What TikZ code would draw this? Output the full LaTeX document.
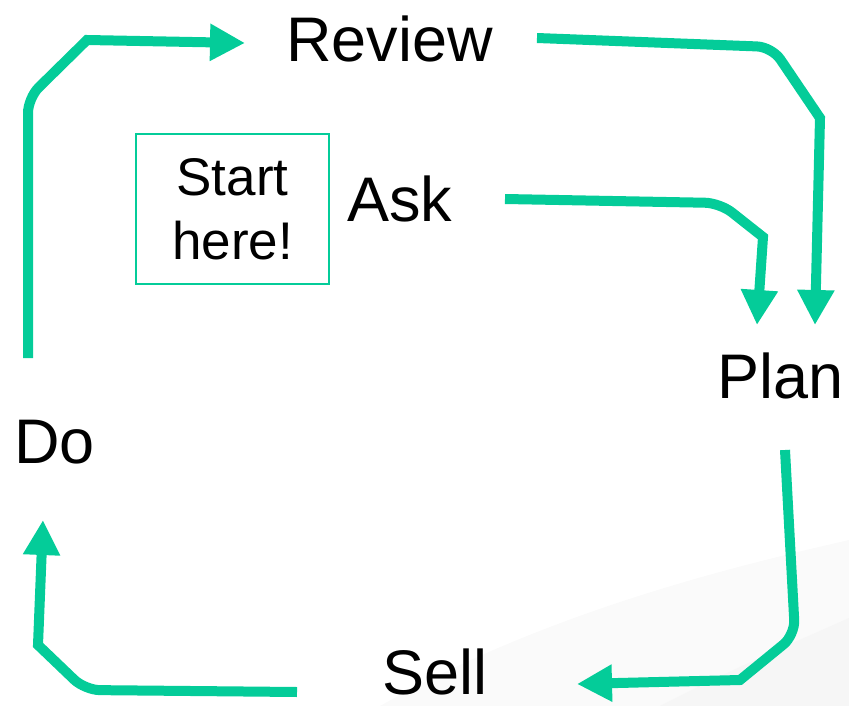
\documentclass[tikz,border=0pt]{standalone}
\usepackage{fontspec}
\setmainfont{Liberation Sans}
\usetikzlibrary{arrows.meta,positioning}
\definecolor{cyclegreen}{RGB}{4,204,153}

\begin{document}
\begin{tikzpicture}[x=1pt, y=-1pt,
                    >={Triangle[length=35pt,width=35pt]},
                    word/.style={inner sep=0pt, anchor=base west, text depth=0pt, font=\fontsize{63}{74}\selectfont},
                    startbox/.style={draw=cyclegreen, line width=2.5pt, align=center, minimum width=193pt, minimum height=150pt, inner sep=0pt, font=\fontsize{53}{64}\selectfont},
                    flow/.style={draw=cyclegreen, line width=10pt, ->}]
                   \useasboundingbox (0,0) rectangle (849,706);

                   % faint background swoosh
                   \fill[gray!4] (380,706) .. controls (550,610) and (740,565) .. (849,540) -- (849,706) -- cycle;
                   \fill[gray!7] (660,706) .. controls (740,665) and (800,640) .. (849,618) -- (849,706) -- cycle;

                   \node [word] (review) at (286,62)  {Review};
                   \node [word] (ask)    at (347,221) {Ask};
                   \node [word] (plan)   at (717,398) {Plan};
                   \node [word] (do)     at (14,463)  {Do};
                   \node [word] (sell)   at (382,694) {Sell};
                   \node [startbox] (start) at (232.5,209) {Start\\here!};

                   % loose ends of the connectors
                   \coordinate (do out)     at (28,358);
                   \coordinate (review in)  at (245,43);
                   \coordinate (review out) at (537,38);
                   \coordinate (plan in r)  at (815,325);
                   \coordinate (ask out)    at (505,199);
                   \coordinate (plan in l)  at (757,325);
                   \coordinate (plan out)   at (785,450);
                   \coordinate (sell in)    at (577,684);
                   \coordinate (sell out)   at (297,692);
                   \coordinate (do in)      at (43,520);

                   \draw[flow] (do out) [rounded corners=15pt] -- (28,98) [sharp corners] -- (87,40) -- (review in);
                   \draw[flow] (review out) [rounded corners=15pt] -- (772,47) [sharp corners] -- (820,118) -- (plan in r);
                   \draw[flow] (ask out) [rounded corners=15pt] -- (720,203) [sharp corners] -- (763,237) -- (plan in l);
                   \draw[flow] (plan out) [rounded corners=15pt] -- (795,635) [sharp corners] -- (740,680) -- (sell in);
                   \draw[flow] (sell out) [rounded corners=15pt] -- (85,690) [sharp corners] -- (38,645) -- (do in);
                \end{tikzpicture}
\end{document}
